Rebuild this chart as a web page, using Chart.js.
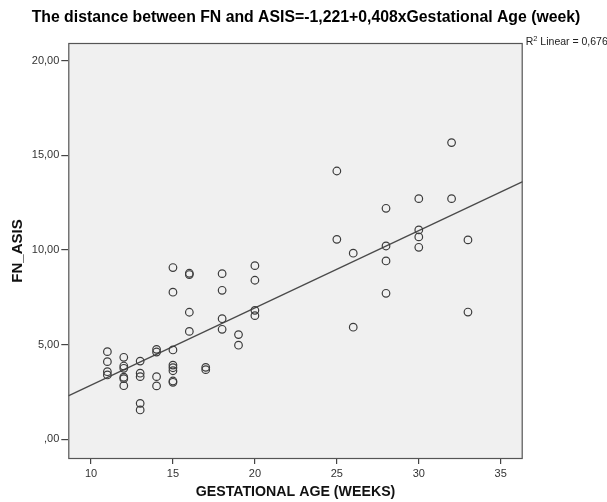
<!DOCTYPE html>
<html>
<head>
<meta charset="utf-8">
<script src="https://cdn.jsdelivr.net/npm/chart.js@4.4.1/dist/chart.umd.min.js"></script>
<style>
  html, body { margin: 0; padding: 0; background: #fff; }
  #chart { display: block; }
</style>
</head>
<body>
<canvas id="chart" width="607" height="502"></canvas>
<script>
// gestational age (weeks) and FN_ASIS values
const weeks = [
  11, 11, 11, 11,
  12, 12, 12, 12, 12, 12,
  13, 13, 13, 13, 13,
  14, 14, 14, 14,
  15, 15, 15, 15, 15, 15, 15, 15,
  16, 16, 16, 16,
  17, 17,
  18, 18, 18, 18,
  19, 19,
  20, 20, 20, 20,
  25, 25,
  26, 26,
  28, 28, 28, 28,
  30, 30, 30, 30,
  32, 32,
  33, 33
];
const fnAsis = [
  4.63, 4.10, 3.57, 3.40,
  4.33, 3.87, 3.75, 3.28, 3.20, 2.83,
  4.13, 3.49, 3.31, 1.90, 1.55,
  4.75, 4.61, 3.31, 2.82,
  9.07, 7.77, 4.72, 3.92, 3.78, 3.62, 3.08, 3.01,
  8.77, 8.70, 6.71, 5.70,
  3.80, 3.68,
  8.75, 7.87, 6.37, 5.81,
  5.53, 4.97,
  9.17, 8.40, 6.81, 6.53,
  14.17, 10.56,
  9.83, 5.92,
  12.20, 10.21, 9.42, 7.71,
  12.71, 11.06, 10.69, 10.14,
  15.67, 12.71,
  10.53, 6.72
];

// fit line from the title: -1,221 + 0,408 x
const intercept = -1.221;
const slope = 0.408;
const rSquared = "0,676";
const chartTitle = "The distance between FN and ASIS=-1,221+0,408xGestational Age (week)";

const xTicks = [10, 15, 20, 25, 30, 35];
const yTicks = [0, 5, 10, 15, 20];

const xMin = 8.615, xMax = 36.34;
const yMin = -1.04, yMax = 20.93;

const FONT = "Arial, 'Liberation Sans', sans-serif";

const points = weeks.map((w, i) => ({ x: w, y: fnAsis[i] }));
const fitLine = [xMin, xMax].map(x => ({ x: x, y: intercept + slope * x }));

function commaDec(v) {
  let s = v.toFixed(2).replace(".", ",");
  if (s.startsWith("0,")) s = s.slice(1);
  return s;
}

// grey plot area, frame, heading and the R² note
const framePlugin = {
  id: "frame",
  beforeDatasetsDraw(chart) {
    const { ctx, chartArea: a } = chart;
    ctx.save();
    ctx.fillStyle = "#f0f0f0";
    ctx.fillRect(a.left, a.top, a.right - a.left, a.bottom - a.top);
    ctx.restore();
  },
  afterDraw(chart) {
    const { ctx, chartArea: a } = chart;
    ctx.save();
    ctx.strokeStyle = "#555";
    ctx.lineWidth = 1.2;
    ctx.strokeRect(a.left + 0.5, a.top + 0.5, a.right - a.left - 1, a.bottom - a.top - 1);

    // heading, centred on the whole picture
    ctx.fillStyle = "#000";
    ctx.font = "bold 15.8px " + FONT;
    ctx.textAlign = "center";
    ctx.textBaseline = "middle";
    ctx.fillText(chartTitle, 306, 18);

    ctx.fillStyle = "#222";
    ctx.textBaseline = "alphabetic";
    ctx.textAlign = "left";
    let x = a.right + 3;
    const y = a.top + 2;
    ctx.font = "10.5px " + FONT;
    ctx.fillText("R", x, y);
    x += ctx.measureText("R").width;
    ctx.font = "7.5px " + FONT;
    ctx.fillText("2", x, y - 4);
    x += ctx.measureText("2").width;
    ctx.font = "10.5px " + FONT;
    ctx.fillText(" Linear = " + rSquared, x, y);
    ctx.restore();
  }
};

new Chart(document.getElementById("chart"), {
  type: "scatter",
  data: {
    datasets: [
      {
        label: "FN_ASIS",
        data: points,
        pointStyle: "circle",
        pointRadius: 3.8,
        pointBorderWidth: 1.2,
        pointBackgroundColor: "rgba(0,0,0,0)",
        pointBorderColor: "#3c3c3c"
      },
      {
        type: "line",
        label: "Linear",
        data: fitLine,
        borderColor: "#4a4a4a",
        borderWidth: 1.3,
        pointRadius: 0,
        fill: false
      }
    ]
  },
  options: {
    responsive: false,
    animation: false,
    devicePixelRatio: 1,
    layout: { padding: { left: 0, right: 84.3, top: 43, bottom: 0 } },
    plugins: {
      legend: { display: false },
      tooltip: { enabled: false },
      title: { display: false }
    },
    scales: {
      x: {
        type: "linear",
        min: xMin,
        max: xMax,
        afterBuildTicks: s => { s.ticks = xTicks.map(v => ({ value: v })); },
        afterFit: s => { s.height = 43; },
        grid: { drawOnChartArea: false, drawTicks: true, tickLength: 5, color: "#444", lineWidth: 1.2 },
        border: { display: false },
        ticks: {
          color: "#333",
          padding: 3,
          font: { family: FONT, size: 11 },
          callback: v => String(v)
        },
        title: {
          display: true,
          text: "GESTATIONAL AGE (WEEKS)",
          color: "#111",
          font: { family: FONT, size: 14.2, weight: "bold" },
          padding: { top: 4, bottom: 1 }
        }
      },
      y: {
        type: "linear",
        min: yMin,
        max: yMax,
        afterBuildTicks: s => { s.ticks = yTicks.map(v => ({ value: v })); },
        afterFit: s => { s.width = 68.3; },
        grid: { drawOnChartArea: false, drawTicks: true, tickLength: 7, color: "#444", lineWidth: 1.2 },
        border: { display: false },
        ticks: {
          color: "#333",
          padding: 2,
          font: { family: FONT, size: 11 },
          callback: v => commaDec(v)
        },
        title: {
          display: true,
          text: "FN_ASIS",
          color: "#111",
          font: { family: FONT, size: 15, weight: "bold" },
          padding: { top: 9, bottom: 0 }
        }
      }
    }
  },
  plugins: [framePlugin]
});
</script>
</body>
</html>
